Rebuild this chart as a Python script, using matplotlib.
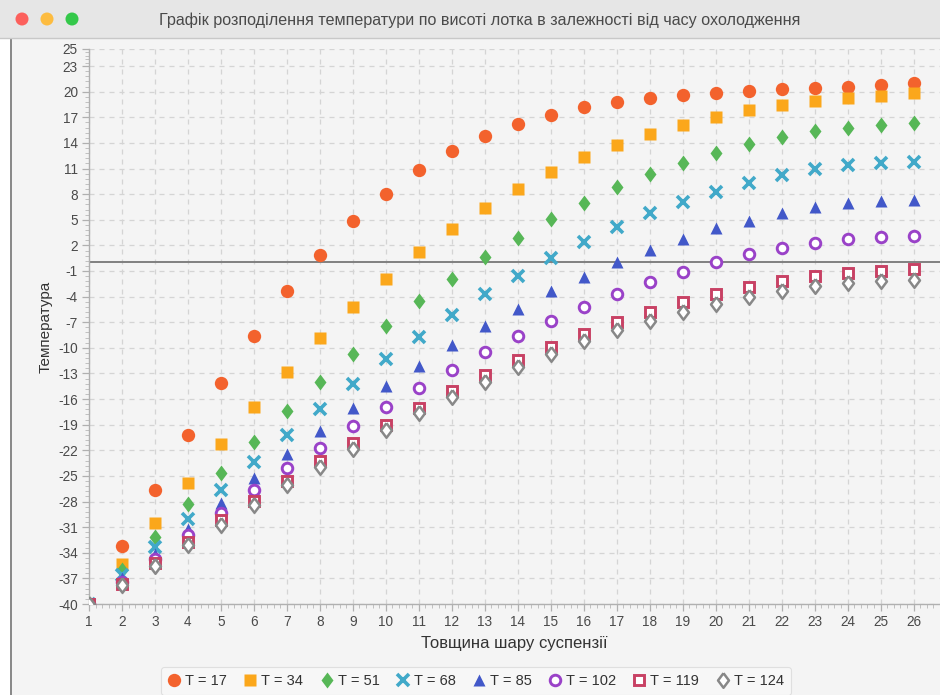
import matplotlib
matplotlib.use("Agg")
import matplotlib.pyplot as plt
from matplotlib.patches import Rectangle, Ellipse
from matplotlib.lines import Line2D

plt.rcParams['font.family'] = ['Liberation Sans', 'DejaVu Sans']
plt.rcParams['axes.unicode_minus'] = False

# ---- data ----
x_vals = list(range(1, 27))
T17 = [-40, -33.2, -26.6, -20.2, -14.1, -8.6, -3.4, 0.9, 4.8, 8.0, 10.8, 13.0, 14.8, 16.2, 17.3,
       18.2, 18.8, 19.3, 19.6, 19.9, 20.1, 20.3, 20.4, 20.6, 20.8, 21.0]
T34 = [-40, -35.3, -30.5, -25.8, -21.3, -16.9, -12.8, -8.8, -5.2, -1.9, 1.2, 3.9, 6.4, 8.6, 10.6,
       12.3, 13.8, 15.1, 16.1, 17.0, 17.8, 18.4, 18.9, 19.3, 19.5, 19.8]
T51 = [-40, -36.0, -32.1, -28.3, -24.6, -21.0, -17.4, -14.0, -10.7, -7.4, -4.5, -1.9, 0.6, 2.9, 5.1,
       7.0, 8.8, 10.35, 11.6, 12.8, 13.9, 14.7, 15.35, 15.8, 16.05, 16.3]
T68 = [-40, -36.6, -33.3, -30.0, -26.7, -23.4, -20.2, -17.2, -14.2, -11.3, -8.7, -6.1, -3.7, -1.6, 0.5,
       2.45, 4.1, 5.8, 7.1, 8.3, 9.3, 10.2, 10.9, 11.4, 11.7, 11.8]
T85 = [-40, -37.0, -34.1, -31.2, -28.2, -25.3, -22.4, -19.7, -17.1, -14.5, -12.1, -9.7, -7.4, -5.4, -3.4,
       -1.65, 0.0, 1.5, 2.8, 4.0, 4.9, 5.8, 6.45, 7.0, 7.2, 7.3]
T102 = [-40, -37.4, -34.7, -31.9, -29.3, -26.7, -24.1, -21.7, -19.2, -16.9, -14.7, -12.6, -10.5, -8.6, -6.8,
        -5.2, -3.7, -2.3, -1.07, 0.0, 0.95, 1.7, 2.3, 2.7, 3.0, 3.1]
T119 = [-40, -37.6, -35.2, -32.7, -30.2, -27.9, -25.6, -23.3, -21.1, -19.0, -17.0, -15.05, -13.2, -11.4, -9.9,
        -8.4, -7.0, -5.75, -4.65, -3.7, -2.9, -2.2, -1.6, -1.2, -0.95, -0.8]
T124 = [-40, -37.8, -35.5, -33.1, -30.8, -28.4, -26.1, -23.9, -21.8, -19.6, -17.6, -15.75, -14.0, -12.2, -10.7,
        -9.2, -7.9, -6.85, -5.75, -4.85, -4.0, -3.4, -2.8, -2.35, -2.15, -2.0]
series_labels = ["T = 17", "T = 34", "T = 51", "T = 68", "T = 85", "T = 102", "T = 119", "T = 124"]
y_major = list(range(-40, 24, 3)) + [25]
x_major = list(range(1, 27))

title = "Графік розподілення температури по висоті лотка в залежності від часу охолодження"
xlabel = "Товщина шару суспензії"
ylabel = "Температура"

# ---- styles ----
diamond = [(0, 1), (0.75, 0), (0, -1), (-0.75, 0), (0, 1)]
styles = [
    dict(marker='o', color='#f3622d', ms=9.6, mfc='#f3622d', mec='none'),
    dict(marker='s', color='#fba71b', ms=8.8, mfc='#fba71b', mec='none'),
    dict(marker=diamond, color='#57b757', ms=11.5, mfc='#57b757', mec='none'),
    dict(marker='x', color='#41a9c9', ms=8.4, mec='#41a9c9', mew=2.6),
    dict(marker='^', color='#4258c9', ms=8.8, mfc='#4258c9', mec='none'),
    dict(marker='o', color='#9a42c8', ms=7.6, mfc='white', mec='#9a42c8', mew=2.1),
    dict(marker='s', color='#c84164', ms=7.6, mfc='white', mec='#c84164', mew=2.1),
    dict(marker=diamond, color='#888888', ms=10.5, mfc='white', mec='#888888', mew=1.8),
]
all_series = [T17, T34, T51, T68, T85, T102, T119, T124]

W, H = 940, 695
fig = plt.figure(figsize=(W / 100, H / 100), dpi=100)
fig.patch.set_facecolor('#f4f4f4')

# window chrome
fig.patches.append(Rectangle((0, 0), 10 / W, 1, transform=fig.transFigure,
                             facecolor='white', edgecolor='none', zorder=0))
fig.patches.append(Rectangle((10 / W, 0), 1.5 / W, 1, transform=fig.transFigure,
                             facecolor='#8a8a8a', edgecolor='none', zorder=1))
fig.patches.append(Rectangle((0, 1 - 38 / H), 1, 38 / H, transform=fig.transFigure,
                             facecolor='#e6e6e6', edgecolor='none', zorder=1))
fig.add_artist(Line2D([0, 1], [1 - 38 / H, 1 - 38 / H], transform=fig.transFigure,
                      color='#c8c8c8', lw=1))
for cx, col in [(22, '#fc605c'), (47, '#fdbc40'), (72, '#34c84a')]:
    fig.patches.append(Ellipse((cx / W, 1 - 19 / H), 13 / W, 13 / H, transform=fig.transFigure,
                               facecolor=col, edgecolor='none', zorder=2))
fig.text(480 / W, 1 - 20 / H, title, ha='center', va='center', fontsize=11.6, color='#4a4a4a')

# axes
left_px, right_px, top_px, bot_px = 89, 940, 49, 604
ax = fig.add_axes([left_px / W, 1 - bot_px / H, (right_px - left_px) / W, (bot_px - top_px) / H])
ax.set_facecolor('#f4f4f4')

handles = []
for vals, st, lab in zip(all_series, styles, series_labels):
    h, = ax.plot(x_vals, vals, linestyle='none', label=lab, clip_on=True, zorder=3, **st)
    handles.append(h)

ax.set_xlim(1, 26.15)
ax.set_ylim(-40, 25)
ax.set_yticks(y_major)
ax.set_xticks(x_major)
y_minor = []
for a, b in zip(y_major[:-1], y_major[1:]):
    y_minor += [a + (b - a) * k / 5 for k in range(1, 5)]
x_minor = []
for a in x_major:
    x_minor += [a + k / 5 for k in range(1, 5)]
ax.set_yticks(y_minor, minor=True)
ax.set_xticks(x_minor, minor=True)

ax.grid(True, which='major', color='#d4d4d4', linestyle=(0, (4, 4)), linewidth=0.9, zorder=0)
ax.axhline(0, color='#808080', lw=1.4, zorder=2)

for s in ['top', 'right']:
    ax.spines[s].set_visible(False)
for s in ['left', 'bottom']:
    ax.spines[s].set_color('#b0b0b0')
    ax.spines[s].set_linewidth(1.0)
ax.tick_params(which='major', direction='out', length=5, width=0.9, color='#b0b0b0',
               labelsize=9.8, labelcolor='#4a4a4a', pad=3)
ax.tick_params(which='minor', direction='out', length=3, width=0.7, color='#c0c0c0')

ax.set_xlabel(xlabel, fontsize=12, color='#333333', labelpad=5)
ax.set_ylabel(ylabel, fontsize=11, color='#333333', labelpad=4)

leg = fig.legend(handles=handles, loc='center', bbox_to_anchor=(476 / W, 1 - 681 / H),
                 ncol=8, fontsize=10.5, frameon=True, facecolor='#f9f9f9', edgecolor='#dadada',
                 handlelength=0.8, handletextpad=0.35, columnspacing=1.2, borderpad=0.5,
                 fancybox=True, labelcolor='#333333')
leg.get_frame().set_linewidth(0.8)

fig.savefig('out.png', dpi=100, facecolor=fig.get_facecolor())
